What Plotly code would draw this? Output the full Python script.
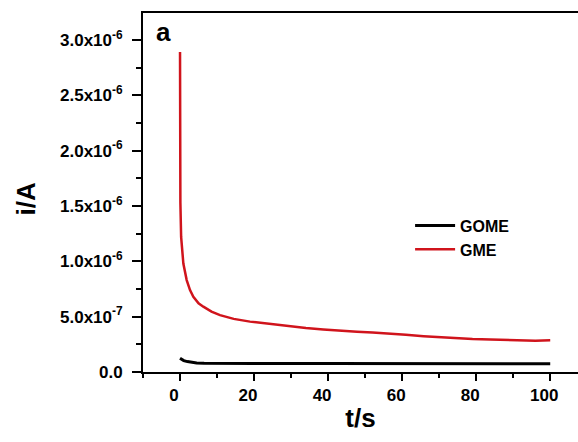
import plotly.graph_objects as go

# Chronoamperometric current transients
gome_t = [0, 0.5, 1, 2, 3, 4.5, 6.5, 10, 20, 40, 60, 80, 100]
gome_i = [0.125e-6, 0.112e-6, 0.103e-6, 0.094e-6, 0.087e-6, 0.082e-6, 0.078e-6,
          0.077e-6, 0.076e-6, 0.076e-6, 0.075e-6, 0.075e-6, 0.075e-6]

gme_t = [0, 0.02, 0.1, 0.3, 0.9, 1.8, 2.7, 3.6, 5, 6.3, 8.5, 10.8, 14.5, 18.9,
         24, 29.7, 34, 38.7, 43, 47.8, 52, 56.8, 61, 65.8, 70, 74.8, 79, 83.8,
         88, 92.8, 96, 100]
gme_i = [2.89e-6, 1.90e-6, 1.53e-6, 1.22e-6, 0.98e-6, 0.83e-6, 0.74e-6, 0.68e-6,
         0.62e-6, 0.59e-6, 0.545e-6, 0.514e-6, 0.48e-6, 0.455e-6, 0.435e-6,
         0.414e-6, 0.398e-6, 0.384e-6, 0.372e-6, 0.363e-6, 0.356e-6, 0.348e-6,
         0.337e-6, 0.324e-6, 0.314e-6, 0.303e-6, 0.298e-6, 0.294e-6, 0.288e-6,
         0.283e-6, 0.282e-6, 0.286e-6]

y_tickvals = [0, 0.5e-6, 1.0e-6, 1.5e-6, 2.0e-6, 2.5e-6, 3.0e-6]
y_ticktext = ["0.0", "5.0x10<sup>-7</sup>", "1.0x10<sup>-6</sup>", "1.5x10<sup>-6</sup>",
              "2.0x10<sup>-6</sup>", "2.5x10<sup>-6</sup>", "3.0x10<sup>-6</sup>"]
x_tickvals = [0, 20, 40, 60, 80, 100]

FONT = "Liberation Sans, Arial, sans-serif"

fig = go.Figure()
fig.add_trace(go.Scatter(x=gome_t, y=gome_i, mode="lines", name="GOME",
                         line=dict(color="#000000", width=3)))
fig.add_trace(go.Scatter(x=gme_t, y=gme_i, mode="lines", name="GME",
                         line=dict(color="#d0141c", width=2.5)))

fig.update_layout(
    width=578, height=442,
    margin=dict(l=143, r=0, t=13, b=70),
    paper_bgcolor="white", plot_bgcolor="white",
    font=dict(family=FONT, color="#000000"),
    showlegend=True,
    legend=dict(x=0.614, y=0.455, xanchor="left", yanchor="top",
                bgcolor="rgba(0,0,0,0)", itemwidth=40,
                font=dict(family=FONT, size=16, weight="bold")),
    annotations=[
        dict(text="a", xref="paper", yref="paper", x=0.026, y=0.948,
             xanchor="left", yanchor="middle", showarrow=False,
             font=dict(family=FONT, size=26, weight="bold")),
        # y-axis title, placed slightly below the plot's vertical centre
        dict(text="i/A", xref="paper", yref="paper", x=-0.268, y=0.482,
             xanchor="center", yanchor="middle", textangle=-90, showarrow=False,
             font=dict(family=FONT, size=26, weight="bold")),
    ],
)

fig.update_xaxes(
    range=[-10, 107.5], showgrid=False, zeroline=False,
    showline=True, linecolor="#000000", linewidth=2, mirror=True,
    ticks="outside", ticklen=7, tickwidth=2, tickcolor="#000000",
    tickvals=x_tickvals, ticklabelshift=-6,
    tickfont=dict(family=FONT, size=17, weight="bold"),
    minor=dict(ticks="outside", ticklen=4, tickwidth=2, dtick=10, tick0=0,
               tickcolor="#000000", showgrid=False),
    title=dict(text="t/s", font=dict(family=FONT, size=26, weight="bold"), standoff=4),
)
fig.update_yaxes(
    range=[0, 3.243e-6], showgrid=False, zeroline=False,
    showline=True, linecolor="#000000", linewidth=2, mirror=False,
    ticks="outside", ticklen=9, tickwidth=2, tickcolor="#000000",
    tickvals=y_tickvals, ticktext=y_ticktext, ticklabelstandoff=6,
    tickfont=dict(family=FONT, size=17, weight="bold"),
    minor=dict(ticks="outside", ticklen=5, tickwidth=2, dtick=0.25e-6, tick0=0,
               tickcolor="#000000", showgrid=False),
)

fig.write_html("out.html")
